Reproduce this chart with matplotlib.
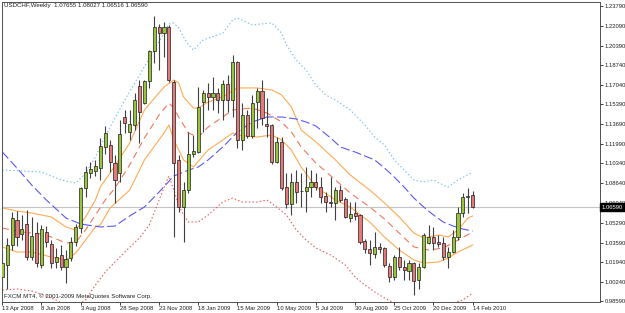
"""
Graphique hebdomadaire USDCHF facon MetaTrader 4 (bougies + bandes)
"""

import matplotlib
matplotlib.use("Agg")
import matplotlib.pyplot as plt
import numpy as np

plt.rcParams['font.family'] = ['Liberation Sans', 'DejaVu Sans']

# Bougies hebdomadaires, du 13 Apr 2008 au 14 Feb 2010
opens = [1.0064, 1.0167, 1.0338, 1.0551, 1.0432, 1.0517, 1.0235, 1.0440, 1.0167, 1.0449,
         1.0346, 1.0192, 1.0253, 1.0150, 1.0227, 1.0363, 1.0483, 1.0825, 1.0953, 1.0970,
         1.0995, 1.1175, 1.1192, 1.1038, 1.0953, 1.1431, 1.1303, 1.1363, 1.1696, 1.1550,
         1.1738, 1.1995, 1.2200, 1.2148, 1.2200, 1.1730, 1.1064, 1.0662, 1.0807, 1.1115,
         1.1132, 1.1559, 1.1636, 1.1602, 1.1636, 1.1576, 1.1713, 1.1576, 1.1901, 1.1235,
         1.1448, 1.1269, 1.1559, 1.1653, 1.1371, 1.1363, 1.1047, 1.1218, 1.0833, 1.0688,
         1.0876, 1.0799, 1.0799, 1.0833, 1.0876, 1.0833, 1.0756, 1.0705, 1.0697, 1.0807,
         1.0731, 1.0568, 1.0611, 1.0594, 1.0372, 1.0304, 1.0261, 1.0321, 1.0312, 1.0158,
         1.0064, 1.0235, 1.0150, 1.0116, 1.0184, 1.0039, 1.0150, 1.0355, 1.0406, 1.0363,
         1.0355, 1.0235, 1.0278, 1.0406, 1.0611, 1.0748, 1.07655]
highs = [1.0278, 1.0398, 1.0620, 1.0628, 1.0594, 1.0637, 1.0577, 1.0534, 1.0509, 1.0500,
         1.0380, 1.0312, 1.0338, 1.0295, 1.0406, 1.0517, 1.0833, 1.1013, 1.1047, 1.1064,
         1.1252, 1.1354, 1.1235, 1.1106, 1.1405, 1.1491, 1.1491, 1.1636, 1.1747, 1.1747,
         1.2003, 1.2294, 1.2225, 1.2242, 1.2217, 1.1747, 1.1106, 1.0876, 1.1303, 1.1277,
         1.1687, 1.1662, 1.1721, 1.1772, 1.1679, 1.1747, 1.1790, 1.1960, 1.1909, 1.1550,
         1.1491, 1.1619, 1.1679, 1.1747, 1.1593, 1.1371, 1.1260, 1.1260, 1.0953, 1.0953,
         1.0978, 1.0953, 1.1004, 1.0978, 1.0953, 1.0918, 1.0790, 1.0918, 1.0833, 1.0850,
         1.0748, 1.0705, 1.0705, 1.0603, 1.0389, 1.0380, 1.0449, 1.0355, 1.0321, 1.0184,
         1.0253, 1.0321, 1.0210, 1.0210, 1.0192, 1.0184, 1.0440, 1.0509, 1.0492, 1.0423,
         1.0406, 1.0321, 1.0466, 1.0662, 1.0782, 1.0825, 1.08027]
lows = [0.9953, 0.9962, 1.0295, 1.0329, 1.0380, 1.0210, 1.0210, 1.0150, 1.0141, 1.0321,
        1.0141, 1.0141, 1.0124, 1.0013, 1.0201, 1.0329, 1.0440, 1.0748, 1.0910, 1.0927,
        1.0893, 1.1115, 1.0961, 1.0697, 1.0876, 1.1294, 1.1235, 1.1320, 1.1209, 1.1542,
        1.1679, 1.1892, 1.1832, 1.1943, 1.1730, 1.0406, 1.0620, 1.0363, 1.0782, 1.1089,
        1.1124, 1.1303, 1.1491, 1.1491, 1.1465, 1.1405, 1.1474, 1.1431, 1.1166, 1.1149,
        1.1252, 1.1252, 1.1337, 1.1363, 1.1260, 1.1030, 1.1038, 1.0807, 1.0654, 1.0594,
        1.0697, 1.0662, 1.0620, 1.0748, 1.0807, 1.0697, 1.0620, 1.0662, 1.0551, 1.0705,
        1.0568, 1.0534, 1.0551, 1.0346, 1.0270, 1.0167, 1.0227, 1.0270, 1.0150, 1.0022,
        1.0039, 1.0124, 1.0039, 1.0039, 0.9911, 0.9962, 1.0141, 1.0346, 1.0295, 1.0321,
        1.0210, 1.0141, 1.0270, 1.0380, 1.0577, 1.0611, 1.06516]
closes = [1.0184, 1.0338, 1.0568, 1.0406, 1.0474, 1.0235, 1.0415, 1.0184, 1.0474, 1.0363,
          1.0184, 1.0235, 1.0150, 1.0218, 1.0363, 1.0492, 1.0825, 1.0961, 1.0987, 1.1013,
          1.1183, 1.1294, 1.1047, 1.0893, 1.1286, 1.1380, 1.1371, 1.1576, 1.1474, 1.1738,
          1.1995, 1.2200, 1.2148, 1.2200, 1.1747, 1.1038, 1.0662, 1.0807, 1.1115, 1.1141,
          1.1516, 1.1636, 1.1602, 1.1636, 1.1576, 1.1713, 1.1576, 1.1901, 1.1235, 1.1448,
          1.1269, 1.1550, 1.1653, 1.1422, 1.1354, 1.1047, 1.1218, 1.0825, 1.0688, 1.0876,
          1.0790, 1.0799, 1.0833, 1.0876, 1.0833, 1.0748, 1.0705, 1.0697, 1.0807, 1.0722,
          1.0577, 1.0603, 1.0586, 1.0363, 1.0304, 1.0270, 1.0321, 1.0304, 1.0167, 1.0064,
          1.0235, 1.0150, 1.0124, 1.0184, 1.0030, 1.0150, 1.0423, 1.0406, 1.0355, 1.0346,
          1.0235, 1.0278, 1.0406, 1.0611, 1.0748, 1.0756, 1.06590]

# Indicateurs, index de barre -> prix
ma_long_idx = [0, 3, 6, 9, 13, 16, 20, 23, 26, 29, 32, 35, 38, 40, 42, 45, 48, 51, 54, 57,
               60, 62, 64, 67, 69, 72, 74, 76, 78, 80, 82, 84, 86, 88, 90, 92, 94, 96]
ma_long = [1.1132, 1.0995, 1.0850, 1.0722, 1.0568, 1.0517, 1.0492, 1.0500, 1.0586, 1.0662,
           1.0790, 1.0927, 1.0978, 1.1004, 1.1064, 1.1175, 1.1303, 1.1388, 1.1431, 1.1431,
           1.1414, 1.1388, 1.1354, 1.1252, 1.1175, 1.1132, 1.1098, 1.1064, 1.0995, 1.0918,
           1.0833, 1.0739, 1.0662, 1.0594, 1.0534, 1.0500, 1.0474, 1.0457]

band_up_idx = [0, 4, 8, 12, 15, 17, 19, 20, 22, 25, 28, 31, 33, 34, 35, 36, 37, 38, 39, 41,
               45, 47, 48, 51, 55, 57, 58, 60, 62, 64, 66, 68, 71, 74, 76, 78, 80, 82, 84, 86,
               88, 90, 91, 93, 96]
band_up = [1.0978, 1.0970, 1.0961, 1.0893, 1.0867, 1.0953, 1.1089, 1.1183, 1.1345, 1.1576,
           1.1790, 1.2003, 1.2148, 1.2225, 1.2234, 1.2191, 1.2114, 1.2046, 1.2003, 1.2089,
           1.2148, 1.2259, 1.2276, 1.2217, 1.2234, 1.2148, 1.2046, 1.1918, 1.1832, 1.1704,
           1.1619, 1.1576, 1.1491, 1.1363, 1.1260, 1.1192, 1.1064, 1.0978, 1.0893, 1.0876,
           1.0893, 1.0850, 1.0833, 1.0893, 1.0961]

band_dn_idx = [0, 3, 6, 9, 11, 13, 15, 17, 19, 21, 23, 25, 28, 30, 32, 33, 34, 35, 36, 37,
               38, 40, 42, 45, 47, 49, 52, 54, 56, 58, 60, 62, 64, 67, 70, 72, 74, 76, 78, 80,
               83, 86, 89, 92, 94, 96]
band_dn = [0.9953, 0.9962, 0.9945, 0.9902, 0.9868, 0.9817, 0.9817, 0.9868, 0.9996, 1.0107,
           1.0192, 1.0278, 1.0398, 1.0509, 1.0722, 1.0825, 1.0927, 1.0807, 1.0680, 1.0594,
           1.0534, 1.0534, 1.0594, 1.0705, 1.0739, 1.0705, 1.0705, 1.0722, 1.0662, 1.0594,
           1.0466, 1.0380, 1.0312, 1.0253, 1.0167, 1.0064, 0.9996, 0.9937, 0.9885, 0.9843,
           0.9800, 0.9783, 0.9800, 0.9843, 0.9868, 0.9928]

env_up_idx = [0, 3, 6, 10, 13, 15, 17, 19, 20, 22, 26, 29, 33, 35, 36, 37, 39, 40, 42, 45,
              48, 52, 55, 57, 59, 61, 64, 68, 71, 75, 78, 81, 84, 86, 89, 91, 93, 95, 96]
env_up = [1.0654, 1.0628, 1.0611, 1.0577, 1.0492, 1.0466, 1.0577, 1.0722, 1.0833, 1.0953,
          1.1209, 1.1491, 1.1687, 1.1747, 1.1721, 1.1602, 1.1508, 1.1508, 1.1559, 1.1602,
          1.1679, 1.1679, 1.1662, 1.1619, 1.1516, 1.1320, 1.1218, 1.1064, 1.0936, 1.0807,
          1.0697, 1.0577, 1.0440, 1.0398, 1.0423, 1.0406, 1.0466, 1.0568, 1.0586]

env_mid_idx = [0, 4, 8, 10, 13, 15, 17, 19, 21, 23, 26, 29, 32, 34, 35, 36, 38, 40, 42, 45,
               47, 51, 54, 57, 59, 61, 64, 68, 71, 75, 78, 81, 84, 87, 90, 93, 96]
env_mid = [1.0483, 1.0449, 1.0432, 1.0406, 1.0355, 1.0363, 1.0466, 1.0594, 1.0722, 1.0825,
           1.1021, 1.1252, 1.1448, 1.1550, 1.1508, 1.1431, 1.1294, 1.1260, 1.1345, 1.1431,
           1.1491, 1.1508, 1.1465, 1.1388, 1.1303, 1.1175, 1.1038, 1.0893, 1.0782, 1.0662,
           1.0560, 1.0440, 1.0321, 1.0295, 1.0312, 1.0380, 1.0449]

env_dn_idx = [0, 3, 6, 10, 13, 15, 17, 19, 20, 22, 26, 29, 33, 34, 35, 37, 39, 42, 45, 47,
              48, 52, 55, 57, 59, 61, 64, 68, 71, 75, 78, 81, 84, 86, 89, 91, 93, 96]
env_dn = [1.0321, 1.0278, 1.0278, 1.0235, 1.0210, 1.0270, 1.0380, 1.0492, 1.0509, 1.0654,
          1.0807, 1.1064, 1.1294, 1.1363, 1.1235, 1.1064, 1.1004, 1.1149, 1.1235, 1.1294,
          1.1277, 1.1260, 1.1277, 1.1235, 1.1149, 1.1004, 1.0833, 1.0722, 1.0662, 1.0534,
          1.0406, 1.0295, 1.0210, 1.0184, 1.0192, 1.0227, 1.0278, 1.0338]

# Axes : etiquettes de prix et de dates
price_ticks = [1.23790, 1.22090, 1.20390, 1.18740, 1.17040, 1.15390, 1.13690, 1.11990,
               1.10340, 1.08640, 1.06940, 1.05290, 1.03590, 1.01940, 1.00240, 0.98590]
date_idx = [0, 8, 16, 24, 32, 40, 48, 56, 64, 72, 80, 88, 96]
date_labels = ['13 Apr 2008', '8 Jun 2008', '3 Aug 2008', '28 Sep 2008', '23 Nov 2008',
               '18 Jan 2009', '15 Mar 2009', '10 May 2009', '5 Jul 2009', '30 Aug 2009',
               '25 Oct 2009', '20 Dec 2009', '14 Feb 2010']

W, H = 625, 313
fig = plt.figure(figsize=(W / 100, H / 100), dpi=100)
ax = fig.add_axes([2 / W, (H - 302) / H, 598 / W, 300 / H])

x = np.arange(len(opens))
o = np.array(opens)
c = np.array(closes)
up = c >= o

# ligne du prix courant
ax.axhline(closes[-1], color='#c4c4c4', lw=0.8, zorder=0)

# bandes et moyennes
ax.plot(env_up_idx, env_up, color='#ffaa55', lw=0.8, zorder=1)
ax.plot(env_dn_idx, env_dn, color='#ffaa55', lw=0.8, zorder=1)
ax.plot(env_mid_idx, env_mid, color='#f07858', lw=0.8, dashes=(6, 4), zorder=1)
ax.plot(ma_long_idx, ma_long, color='#5a5af0', lw=0.8, dashes=(8, 3), zorder=1)
ax.plot(band_up_idx, band_up, color='#7ec0f0', lw=0.8, dashes=(1.3, 2), zorder=1)
ax.plot(band_dn_idx, band_dn, color='#f05a5a', lw=0.8, dashes=(1.3, 2), zorder=1)

# bougies
ax.vlines(x, lows, highs, color='#404040', lw=0.8, zorder=2)
bottoms = np.minimum(o, c)
heights = np.maximum(np.abs(c - o), 0.0004)
colors = np.where(up, '#98c43a', '#e67878')
ax.bar(x, heights, bottom=bottoms, width=0.62, color=colors,
       edgecolor='#1e1e1e', linewidth=0.5, zorder=3)

ax.set_xlim(-0.06, 121.98)
ax.set_ylim(0.98511, 1.2413)

ax.yaxis.tick_right()
ax.set_yticks(price_ticks)
ax.set_yticklabels([f'{v:.5f}' for v in price_ticks])
ax.tick_params(axis='y', direction='out', length=2, width=0.6, pad=1.5,
               labelsize=4.2, colors='#202020')
ax.set_xticks(date_idx)
ax.set_xticklabels(date_labels, ha='left')
ax.tick_params(axis='x', direction='out', length=2, width=0.6, pad=1,
               labelsize=4.2, colors='#202020')
for lbl in ax.get_xticklabels():
    lbl.set_x(lbl.get_position()[0])

for side in ['left', 'right', 'top', 'bottom']:
    ax.spines[side].set_color('#505050')
    ax.spines[side].set_linewidth(0.7)

# etiquette du prix courant
ax.text(1.003, closes[-1], f'{closes[-1]:.5f}', transform=ax.get_yaxis_transform(),
        ha='left', va='center', fontsize=4.2, color='white', zorder=10, clip_on=False,
        bbox=dict(boxstyle='square,pad=0.25', facecolor='black', edgecolor='black'))

fig.text(4 / W, 1 - 6 / H, 'USDCHF,Weekly  1.07655 1.08027 1.06516 1.06590',
         ha='left', va='center', fontsize=4.4, color='#202020')
fig.text(4 / W, 1 - 296 / H, 'FXCM MT4, \u00a9 2001-2009 MetaQuotes Software Corp.',
         ha='left', va='center', fontsize=4.4, color='#202020')

fig.savefig('out.png', dpi=100, facecolor='white')
